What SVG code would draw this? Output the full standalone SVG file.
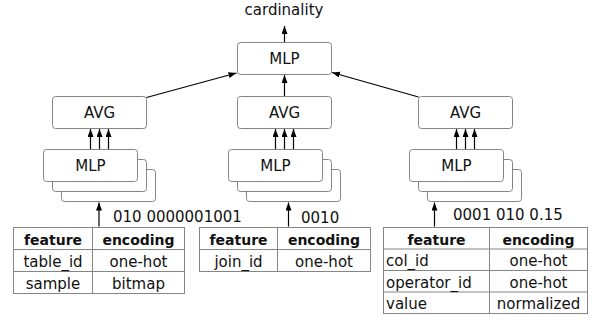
<svg xmlns="http://www.w3.org/2000/svg" width="592" height="322" viewBox="0 0 592 322">
<style>
text{font-family:"DejaVu Sans","Liberation Sans",sans-serif;font-size:15px;fill:#111}
.c{text-anchor:middle}
.b{font-weight:bold;font-size:14px}
.box{fill:#fff;stroke:#858585;stroke-width:1}
.tb{fill:none;stroke:#858585;stroke-width:1}
.ar{stroke:#000;stroke-width:1.2;fill:none;marker-end:url(#ah)}
</style>
<defs>
<marker id="ah" markerUnits="userSpaceOnUse" markerWidth="9" markerHeight="7" refX="8" refY="3" orient="auto">
<path d="M0,0 L8,3 L0,6 z" fill="#000"/>
</marker>
</defs>
<rect width="592" height="322" fill="#fff"/>

<text id="out" class="c" x="284" y="14.5">cardinality</text>

<g id="mlp-top">
<rect class="box" x="237.5" y="42.5" width="94" height="32" rx="3"/>
<text class="c" x="284.5" y="64">MLP</text>
</g>

<g id="avg-left">
<rect class="box" x="52.5" y="96.5" width="94" height="32" rx="3"/>
<text class="c" x="99.5" y="118">AVG</text>
</g>
<g id="avg-mid">
<rect class="box" x="237.5" y="96.5" width="94" height="32" rx="3"/>
<text class="c" x="284.5" y="118">AVG</text>
</g>
<g id="avg-right">
<rect class="box" x="418.5" y="96.5" width="94" height="32" rx="3"/>
<text class="c" x="465.5" y="118">AVG</text>
</g>

<g id="mlp-left">
<rect class="box" x="61.5" y="169.5" width="94" height="32" rx="3"/>
<rect class="box" x="52.5" y="159.5" width="94" height="32" rx="3"/>
<rect class="box" x="43.5" y="149.5" width="94" height="32" rx="3"/>
<text class="c" x="90.5" y="171">MLP</text>
</g>
<g id="mlp-mid">
<rect class="box" x="246.5" y="169.5" width="94" height="32" rx="3"/>
<rect class="box" x="237.5" y="159.5" width="94" height="32" rx="3"/>
<rect class="box" x="228.5" y="149.5" width="94" height="32" rx="3"/>
<text class="c" x="275.5" y="171">MLP</text>
</g>
<g id="mlp-right">
<rect class="box" x="427.5" y="169.5" width="94" height="32" rx="3"/>
<rect class="box" x="418.5" y="159.5" width="94" height="32" rx="3"/>
<rect class="box" x="409.5" y="149.5" width="94" height="32" rx="3"/>
<text class="c" x="456.5" y="171">MLP</text>
</g>

<g id="connectors">
<line class="ar" x1="284.5" y1="42" x2="284.5" y2="26"/>
<line class="ar" x1="284.5" y1="96" x2="284.5" y2="75"/>
<line class="ar" x1="146.5" y1="97.5" x2="236.5" y2="73"/>
<line class="ar" x1="418.5" y1="97" x2="332" y2="72.5"/>
<line class="ar" x1="90.5" y1="149" x2="90.5" y2="129"/>
<line class="ar" x1="99.5" y1="149" x2="99.5" y2="129"/>
<line class="ar" x1="108.5" y1="149" x2="108.5" y2="129"/>
<line class="ar" x1="275.5" y1="149" x2="275.5" y2="129"/>
<line class="ar" x1="284.5" y1="149" x2="284.5" y2="129"/>
<line class="ar" x1="293.5" y1="149" x2="293.5" y2="129"/>
<line class="ar" x1="456.5" y1="149" x2="456.5" y2="129"/>
<line class="ar" x1="465.5" y1="149" x2="465.5" y2="129"/>
<line class="ar" x1="474.5" y1="149" x2="474.5" y2="129"/>
<line class="ar" x1="99" y1="226.5" x2="99" y2="202.5"/>
<line class="ar" x1="288.5" y1="226.5" x2="288.5" y2="202.5"/>
<line class="ar" x1="434.5" y1="226.5" x2="434.5" y2="202.5"/>
</g>

<text id="lbl-left" x="113" y="222">010 0000001001</text>
<text id="lbl-mid" x="301" y="222.5">0010</text>
<text id="lbl-right" x="453" y="219.5">0001 010 0.15</text>

<g id="table-left">
<rect class="tb" x="13.5" y="227.5" width="171" height="66"/>
<path class="tb" d="M92.5,227.5V293.5M13.5,249.5H184.5M13.5,271.5H184.5"/>
<text class="c b" x="53" y="244.5">feature</text>
<text class="c b" x="138.5" y="244.5">encoding</text>
<text class="c" x="53" y="266.5">table_id</text>
<text class="c" x="138.5" y="266.5">one-hot</text>
<text class="c" x="53" y="288.5">sample</text>
<text class="c" x="138.5" y="288.5">bitmap</text>
</g>

<g id="table-mid">
<rect class="tb" x="199.5" y="227.5" width="171" height="44"/>
<path class="tb" d="M277.5,227.5V271.5M199.5,249.5H370.5"/>
<text class="c b" x="238.5" y="244.5">feature</text>
<text class="c b" x="324" y="244.5">encoding</text>
<text class="c" x="238.5" y="266.5">join_id</text>
<text class="c" x="324" y="266.5">one-hot</text>
</g>

<g id="table-right">
<rect class="tb" x="383.5" y="227.5" width="204" height="86"/>
<path class="tb" d="M489.5,227.5V313.5M383.5,249H587.5M383.5,270.5H587.5M383.5,292H587.5"/>
<text class="c b" x="436.5" y="244.5">feature</text>
<text class="c b" x="538.5" y="244.5">encoding</text>
<text x="386" y="266">col_id</text>
<text class="c" x="538.5" y="266">one-hot</text>
<text x="386" y="287.5">operator_id</text>
<text class="c" x="538.5" y="287.5">one-hot</text>
<text x="386" y="309">value</text>
<text class="c" x="538.5" y="309">normalized</text>
</g>
</svg>
